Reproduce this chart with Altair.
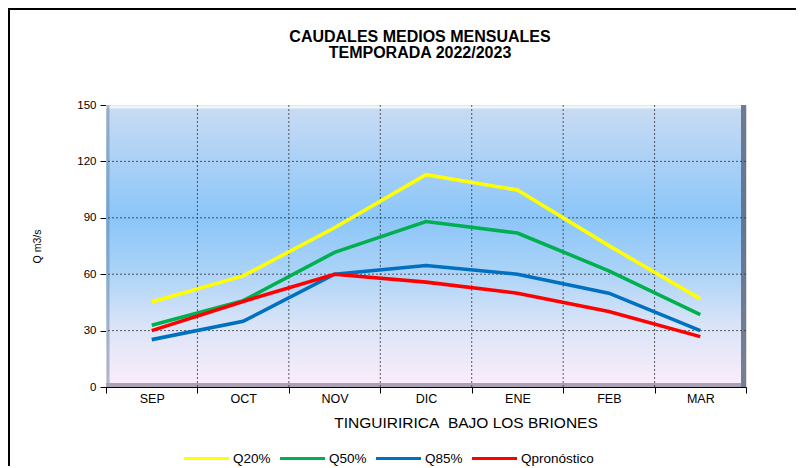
import altair as alt
import pandas as pd

title_lines = ["CAUDALES MEDIOS MENSUALES", "TEMPORADA 2022/2023"]
x_title = "TINGUIRIRICA\u00a0 BAJO LOS BRIONES"
y_title = "Q m3/s"
months = ["SEP", "OCT", "NOV", "DIC", "ENE", "FEB", "MAR"]
series = ["Q20%", "Q50%", "Q85%", "Qpronóstico"]
q20 = [45.2, 59.1, 84.7, 112.9, 104.8, 75.2, 46.9]
q50 = [32.8, 45.9, 71.6, 88.0, 81.9, 61.8, 38.5]
q85 = [25.2, 34.9, 60.0, 64.6, 60.0, 49.9, 30.0]
qpron = [30.0, 45.5, 60.0, 55.8, 49.9, 40.2, 26.8]
y_ticks = [0, 30, 60, 90, 120, 150]
colors = ["#ffff00", "#00b050", "#0070c0", "#ff0000"]

rows = []
for name, vals in zip(series, [q20, q50, q85, qpron]):
    for i, (m, v) in enumerate(zip(months, vals)):
        rows.append({"serie": name, "mes": m, "idx": i, "q": v})
df = pd.DataFrame(rows)

n = len(months)
boundaries = [i - 0.5 for i in range(n + 1)]
inner_bounds = boundaries[1:-1]
inner_y = y_ticks[1:-1]

W, H = 640, 282
PB = 79
FONT = "Liberation Sans"
xscale = alt.Scale(domain=[-0.5, n - 0.5], nice=False, zero=False)
yscale = alt.Scale(domain=[0, 150], nice=False)

one = alt.Data(values=[{}])

grad = alt.Gradient(
    gradient="linear",
    stops=[
        alt.GradientStop(offset=0.0, color="#cadcf2"),
        alt.GradientStop(offset=0.12, color="#b7d5f5"),
        alt.GradientStop(offset=0.40, color="#8bc6f9"),
        alt.GradientStop(offset=0.58, color="#a9d2f7"),
        alt.GradientStop(offset=0.78, color="#d9e4f7"),
        alt.GradientStop(offset=1.0, color="#fcedfb"),
    ],
    x1=0, x2=0, y1=0, y2=1,
)

bg = alt.Chart(one).mark_rect(fill=grad).encode(
    x=alt.value(0), x2=alt.value(W), y=alt.value(0), y2=alt.value(H)
)

bevel_right = alt.Chart(one).mark_rule(color="#56637a", strokeWidth=5, opacity=0.8).encode(
    x=alt.value(W - 2.5), y=alt.value(0), y2=alt.value(H)
)
bevel_bottom = alt.Chart(one).mark_rule(color="#8a8196", strokeWidth=4, opacity=0.7).encode(
    x=alt.value(0), x2=alt.value(W - 5), y=alt.value(H - 2)
)
bevel_top = alt.Chart(one).mark_rule(color="#ffffff", strokeWidth=3, opacity=0.7).encode(
    x=alt.value(0), x2=alt.value(W - 5), y=alt.value(2)
)
bevel_left = alt.Chart(one).mark_rule(color="#6a7d99", strokeWidth=3, opacity=0.5).encode(
    x=alt.value(2), y=alt.value(0), y2=alt.value(H - 4)
)

vgrid = alt.Chart(pd.DataFrame({"b": inner_bounds})).mark_rule(
    color="#333333", strokeWidth=0.8, strokeDash=[2, 2]
).encode(
    x=alt.X("b:Q", scale=xscale, axis=alt.Axis(
        orient="bottom", values=boundaries, labels=False, ticks=True, tickSize=6,
        tickColor="black", domain=True, domainColor="black", grid=False, title=None)),
)

hgrid = alt.Chart(pd.DataFrame({"t": inner_y})).mark_rule(
    color="#333333", strokeWidth=0.8, strokeDash=[2, 2]
).encode(
    y=alt.Y("t:Q", scale=yscale, axis=alt.Axis(
        orient="left", values=y_ticks, tickSize=6, tickColor="black", domainColor="black",
        grid=False, labelFontSize=11.5, labelPadding=4, labelColor="black",
        labelFont=FONT, title=y_title, titleFontSize=10.5, titleFontWeight="normal",
        titleFont=FONT, titleColor="black", titleX=-64, titleY=H / 2,
        titleAngle=270, titleAlign="center")),
)

label_expr = str(months) + "[datum.value]"
lines = alt.Chart(df).mark_line(strokeWidth=3.6).encode(
    x=alt.X("idx:Q", scale=xscale, axis=alt.Axis(
        orient="bottom", values=list(range(n)), labelExpr=label_expr, ticks=False,
        tickSize=0, domain=False, grid=False, labelPadding=5, labelFontSize=12.5,
        labelFont=FONT, labelColor="black", title=None)),
    y=alt.Y("q:Q", scale=yscale, axis=None),
    color=alt.Color("serie:N", scale=alt.Scale(domain=series, range=colors),
                    legend=alt.Legend(
                        orient="none", legendX=76, legendY=329, direction="horizontal",
                        title=None, symbolType="stroke", symbolSize=2025,
                        symbolStrokeWidth=3.2, labelFontSize=13.5, labelFont=FONT,
                        labelColor="black", labelOffset=2, columnPadding=2)),
    detail="serie:N",
)

t1 = alt.Chart(one).mark_text(
    text=title_lines[0], font=FONT, fontSize=16, fontWeight="bold",
    color="black", align="center", baseline="middle"
).encode(x=alt.value(314), y=alt.value(-68))
t2 = alt.Chart(one).mark_text(
    text=title_lines[1], font=FONT, fontSize=16, fontWeight="bold",
    color="black", align="center", baseline="middle"
).encode(x=alt.value(314), y=alt.value(-52.5))
xt = alt.Chart(one).mark_text(
    text=x_title, font=FONT, fontSize=15.5,
    color="black", align="center", baseline="middle"
).encode(x=alt.value(360), y=alt.value(318))

frame_left = alt.Chart(one).mark_rule(color="black", strokeWidth=2).encode(
    x=alt.value(-97), y=alt.value(-97), y2=alt.value(H + PB)
)
frame_top = alt.Chart(one).mark_rule(color="black", strokeWidth=2).encode(
    x=alt.value(-98), x2=alt.value(W + 50), y=alt.value(-96)
)

chart = alt.layer(
    bg, bevel_top, bevel_left, bevel_right, bevel_bottom, vgrid, hgrid, lines,
    t1, t2, xt, frame_left, frame_top
).resolve_axis(x="independent", y="independent").properties(
    width=W, height=H,
    autosize=alt.AutoSizeParams(type="none"),
    padding={"left": 98, "top": 97, "right": 50, "bottom": PB},
).configure_view(stroke=None).configure(background="white")

chart.save("out.html", embed_options={"renderer": "svg", "actions": False})
